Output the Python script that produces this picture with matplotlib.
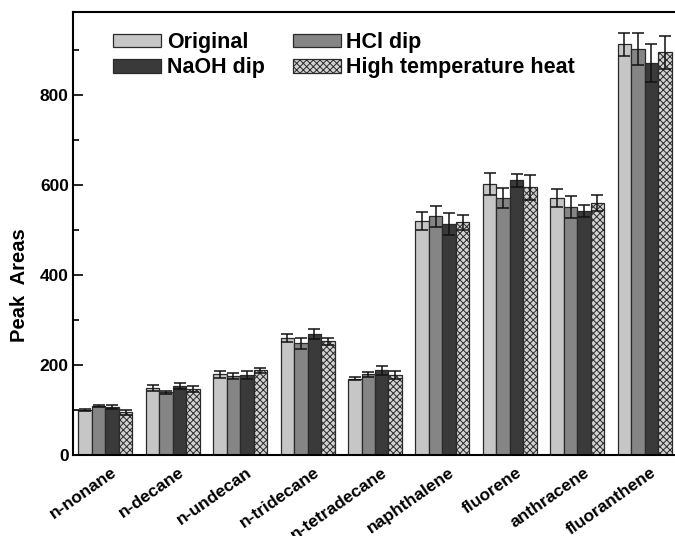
import matplotlib
matplotlib.use("Agg")
import matplotlib.pyplot as plt
import numpy as np

categories = ["n-nonane", "n-decane", "n-undecan", "n-tridecane", "n-tetradecane",
              "naphthalene", "fluorene", "anthracene", "fluoranthene"]
series_names = ["Original", "HCl dip", "NaOH dip", "High temperature heat"]

original = [100, 149, 179, 260, 170, 521, 602, 572, 913]
original_err = [2, 6, 8, 9, 3, 20, 24, 20, 25]
hcl = [109, 139, 176, 248, 179, 531, 572, 551, 903]
hcl_err = [2, 3, 6, 12, 6, 23, 22, 24, 35]
naoh = [107, 154, 178, 269, 188, 514, 611, 543, 872]
naoh_err = [5, 7, 9, 11, 10, 25, 14, 13, 42]
hth = [95, 146, 188, 253, 178, 517, 595, 560, 895]
hth_err = [5, 7, 5, 8, 9, 17, 27, 17, 37]

yticks = [0, 200, 400, 600, 800]

plt.rcParams['font.family'] = ['Liberation Sans', 'DejaVu Sans']
plt.rcParams['font.weight'] = 'bold'
plt.rcParams['hatch.linewidth'] = 0.7

fig = plt.figure(figsize=(6.75, 5.36), dpi=100)
ax = fig.add_axes([73/675, 1-455/536, (675-73)/675, (455-12)/536])

x = np.arange(len(categories))
w = 0.2
styles = [
    dict(color='#c6c6c6'),
    dict(color='#858585'),
    dict(color='#3a3a3a'),
    dict(color='#d2d2d2', hatch='xxxxx'),
]
data = [(original, original_err), (hcl, hcl_err), (naoh, naoh_err), (hth, hth_err)]
handles = []
for i, ((vals, errs), st, name) in enumerate(zip(data, styles, series_names)):
    b = ax.bar(x + (i - 1.5) * w, vals, w, yerr=errs, color=st['color'],
               hatch=st.get('hatch'), edgecolor='#2a2a2a', linewidth=0.9,
               error_kw=dict(ecolor='#111111', elinewidth=1.1, capsize=4, capthick=1.1),
               label=name)
    handles.append(b)

ax.set_xlim(-0.48, 8.45)
ax.set_ylim(0, 985)
ax.set_yticks(yticks)
ax.set_yticklabels([str(v) for v in yticks], fontsize=12.5, fontweight='bold')
ax.set_yticks(np.arange(100, 1000, 200), minor=True)
ax.tick_params(axis='y', which='major', direction='in', length=7, width=1.2, pad=3)
ax.tick_params(axis='y', which='minor', direction='in', length=4, width=1.2)
ax.set_xticks(x)
ax.set_xticklabels(categories, rotation=35, ha='right', rotation_mode='anchor',
                   fontsize=12.5, fontweight='bold')
ax.tick_params(axis='x', length=0, pad=7)
for lbl in ax.get_xticklabels():
    lbl.set_transform(lbl.get_transform() + matplotlib.transforms.ScaledTranslation(6/100, 0, fig.dpi_scale_trans))

for s in ['left', 'top', 'bottom']:
    ax.spines[s].set_linewidth(1.5)
ax.spines['right'].set_visible(False)

fig.text(20/675, 1-285/536, "Peak  Areas", rotation=90, fontsize=14.5, fontweight='bold',
         ha='center', va='center')

order = [0, 2, 1, 3]
leg = ax.legend([handles[i] for i in order], [series_names[i] for i in order], ncol=2,
                loc='upper left', bbox_to_anchor=(113/675, 1-32/536),
                bbox_transform=fig.transFigure, frameon=False, borderpad=0,
                borderaxespad=0, handlelength=2.25, handleheight=0.6,
                handletextpad=0.25, columnspacing=1.3, labelspacing=0.2,
                prop=dict(size=15.5, weight='bold'))

fig.savefig("out.png", dpi=100)
